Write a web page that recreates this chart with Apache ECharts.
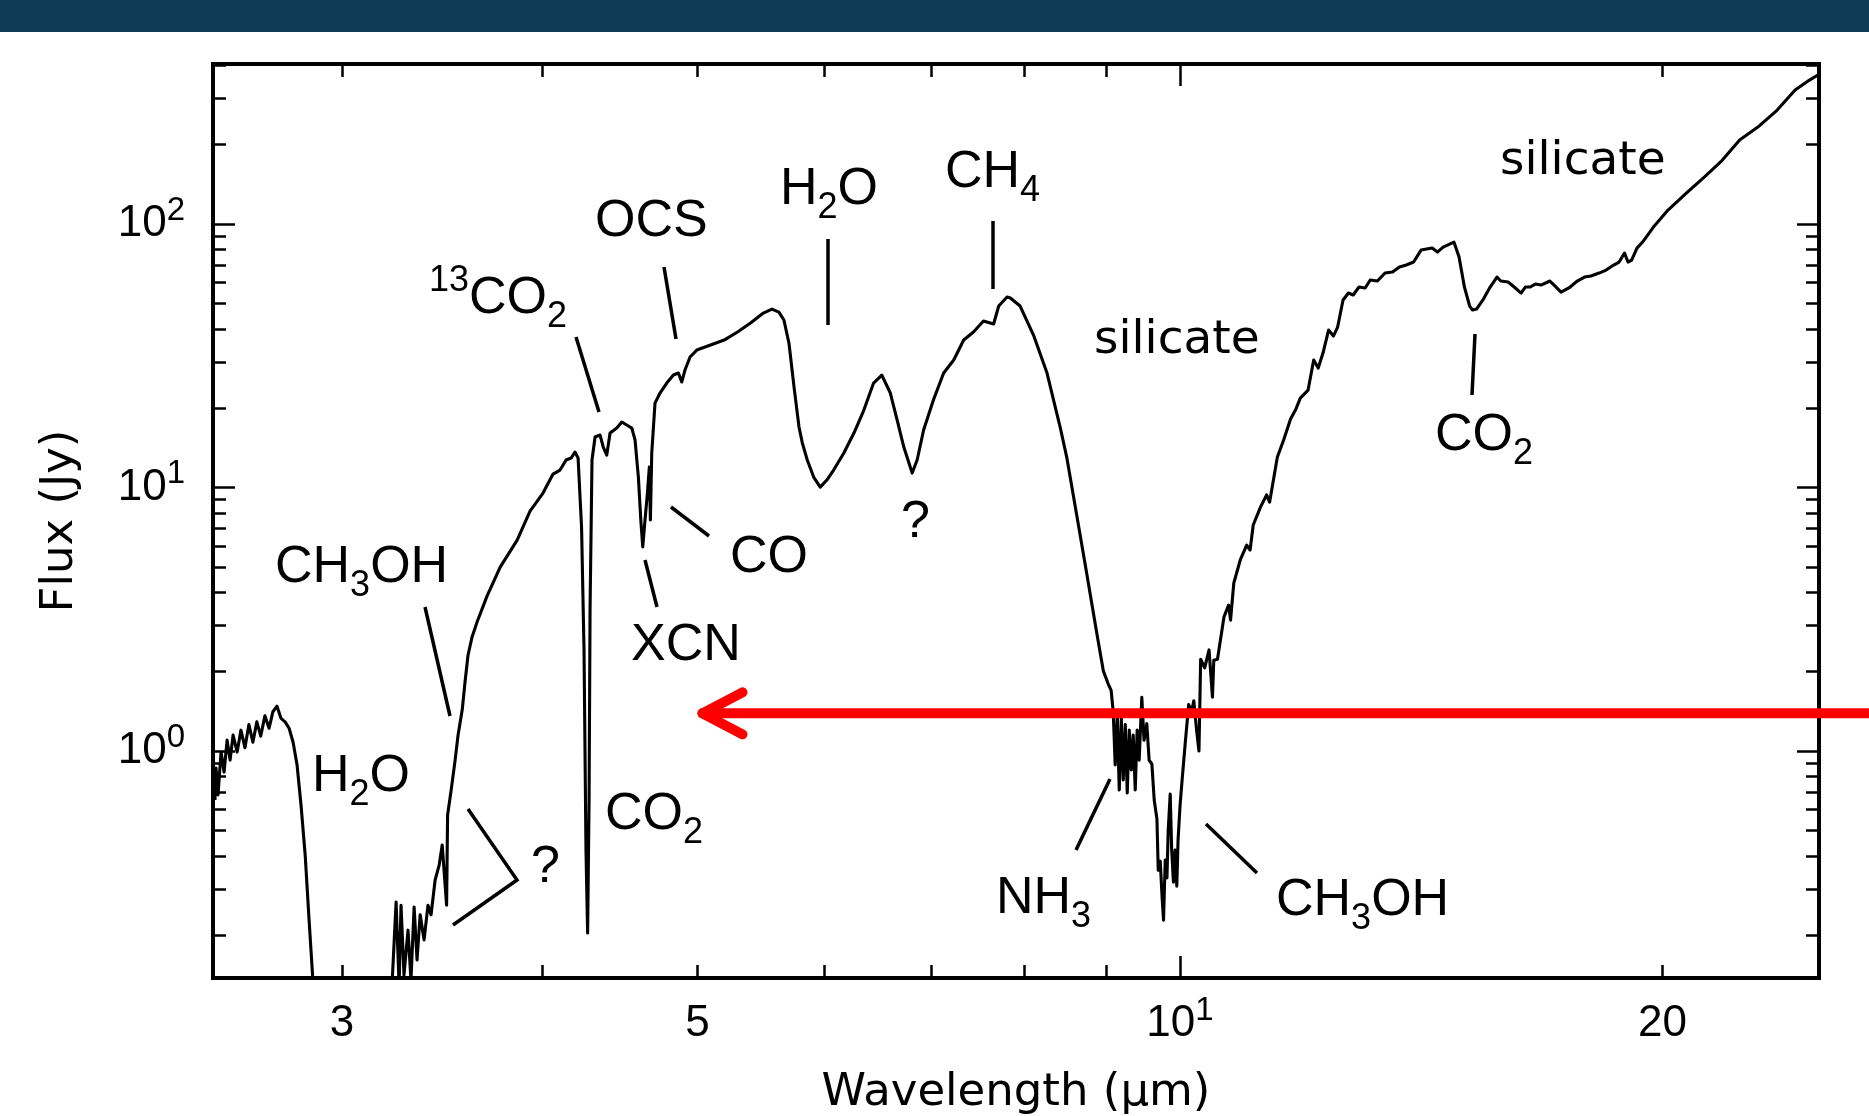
<!DOCTYPE html>
<html>
<head>
<meta charset="utf-8">
<script src="https://cdn.jsdelivr.net/npm/echarts@6/dist/echarts.min.js"></script>
<style>
html,body{margin:0;padding:0;background:#fff;}
#chart{width:1869px;height:1116px;}
</style>
</head>
<body>
<div id="chart"></div>
<script>
// ---- data (wavelength in micron, flux in Jy) ----
const wavelengthUm = [
2.500,2.504,2.511,2.522,2.533,2.544,2.555,2.566,2.581,2.595,2.610,2.625,2.640,2.655,2.670,2.686,2.702,2.717,2.733,2.749,2.765,2.781,2.797,2.813,2.829,2.846,2.862,2.879,
3.224,3.243,3.257,3.266,3.280,3.299,3.313,3.328,3.342,3.357,3.376,3.395,3.410,3.430,3.450,3.465,3.487,3.492,3.510,3.530,3.545,3.566,3.581,3.596,3.617,3.643,3.696,3.766,3.859,3.931,4.005,4.063,4.104,4.140,4.170,4.193,4.212,4.233,4.248,4.260,4.270,4.279,4.285,4.297,4.316,4.347,4.367,4.389,4.410,4.453,4.485,4.517,4.550,4.571,4.593,4.609,4.622,4.637,4.653,4.666,4.673,4.682,4.704,4.738,4.784,4.830,4.865,4.888,4.911,4.947,4.995,
5.095,5.195,5.296,5.396,5.496,5.565,5.620,5.661,5.702,5.744,5.785,5.813,5.854,5.908,5.964,6.021,6.080,6.170,6.260,6.350,6.439,6.516,6.596,6.661,6.725,6.806,6.855,6.919,7.017,7.121,7.225,7.329,7.433,7.540,7.651,7.707,7.800,7.837,7.948,8.102,8.261,8.418,8.498,8.623,8.749,8.875,8.958,
9.019,9.058,9.085,9.111,9.138,9.164,9.191,9.217,9.244,9.270,9.297,9.324,9.350,9.377,9.403,9.430,9.466,9.496,9.534,9.566,9.604,9.636,9.674,9.692,9.720,9.748,9.766,9.790,9.814,9.832,9.860,9.881,9.906,9.930,9.954,9.972,
10.000,10.030,10.075,10.125,10.166,10.200,10.241,10.276,10.301,10.361,10.426,10.477,10.497,10.553,10.652,10.723,10.753,10.803,10.904,11.005,11.059,11.109,11.225,11.324,11.374,11.501,11.605,11.721,11.804,11.886,
12.020,12.117,12.196,12.280,12.379,12.465,12.541,12.639,12.736,12.824,12.932,13.047,13.143,13.279,13.424,13.570,13.705,13.841,13.988,14.137,14.366,14.474,14.593,14.821,14.931,15.046,15.160,15.223,15.310,15.463,15.613,15.766,15.853,16.021,16.161,16.322,16.422,16.538,16.659,16.796,17.012,17.140,17.286,17.515,17.693,17.879,18.045,18.258,18.444,18.644,18.790,18.936,19.032,19.131,19.279,19.435,19.740,
20.158,20.695,21.235,21.782,22.343,22.935,23.581,24.196,24.701,25.000
];
const fluxJy = [
0.652,0.862,0.681,0.991,0.832,1.10,0.924,1.15,0.991,1.20,1.03,1.26,1.08,1.29,1.14,1.36,1.22,1.41,1.48,1.33,1.29,1.22,1.08,0.885,0.624,0.403,0.228,0.129,
0.129,0.267,0.129,0.260,0.141,0.209,0.135,0.256,0.161,0.239,0.192,0.260,0.239,0.324,0.369,0.440,0.260,0.572,0.711,0.924,1.15,1.43,1.84,2.31,2.71,3.09,3.88,4.99,6.32,8.14,9.53,11.25,11.65,12.72,12.94,13.64,12.94,7.08,2.42,0.421,0.204,0.652,3.43,12.72,15.55,15.82,14.25,13.28,16.10,16.82,17.73,17.27,16.82,15.15,10.96,7.53,5.95,7.53,9.53,11.96,7.53,13.52,20.92,22.84,24.93,26.73,27.20,25.15,27.92,31.28,33.25,
34.74,36.29,38.92,42.11,45.94,47.58,46.35,43.23,35.35,24.06,16.97,14.75,12.72,10.96,10.04,10.68,11.65,13.52,16.10,19.68,24.93,26.73,22.84,18.04,14.25,11.35,12.72,16.53,21.48,27.20,30.47,36.29,38.92,42.85,41.74,48.85,52.84,52.38,48.85,37.91,27.20,16.97,13.05,7.80,4.66,2.78,2.01,
1.80,1.70,1.41,0.885,1.37,0.711,1.33,0.776,1.26,0.693,1.20,0.847,1.15,0.711,1.20,0.924,1.60,1.10,1.27,0.924,0.893,0.652,0.552,0.353,0.382,0.272,0.228,0.386,0.330,0.501,0.687,0.421,0.318,0.421,0.307,0.460,
0.618,0.776,1.07,1.50,1.41,1.55,1.20,1.00,2.23,2.07,2.42,1.60,2.21,2.23,3.23,3.58,3.14,4.34,5.31,6.05,5.79,7.21,8.43,9.37,8.81,13.05,15.15,18.20,19.68,21.86,
23.44,30.47,28.41,32.39,39.60,37.58,40.65,51.47,54.72,53.79,57.68,57.18,61.32,60.78,65.17,65.74,68.68,69.90,71.76,79.67,81.07,78.29,81.79,85.45,74.95,57.68,48.85,47.17,47.58,51.93,57.68,62.95,60.78,60.25,57.68,54.72,57.68,57.68,59.20,58.69,60.78,58.17,55.20,57.68,60.78,62.95,63.50,65.17,66.90,69.90,71.76,77.61,71.76,73.03,81.07,85.45,97.41,
113.0,131.1,150.8,174.2,208.4,233.4,270.8,322.5,352.0,367.8
];

// axis ranges and tick values
const xRange = [2.493, 25.04];
const yRange = [0.1376, 405];
const xMinorTicks = [3, 4, 5, 6, 7, 8, 9, 20];
const xTickLabels = [3, 5, 10, 20];
const yMinorTicks = [0.2, 0.3, 0.4, 0.5, 0.6, 0.7, 0.8, 0.9, 2, 3, 4, 5, 6, 7, 8, 9, 20, 30, 40, 50, 60, 70, 80, 90, 200, 300, 400];
const yTickLabels = [1, 10, 100];
const arrowTip = [5.0, 1.39];

// ---- styling / layout ----
const FONT = 'Liberation Sans';
const TITLE_FONT = 'DejaVu Sans';
const BLACK = '#000';

const tickRich = {
  b: { fontFamily: FONT, fontSize: 44, lineHeight: 60, color: BLACK },
  s: { fontFamily: FONT, fontSize: 33, lineHeight: 30, verticalAlign: 'top', color: BLACK }
};
function tickFormatter(v) {
  const r = Math.round(v);
  if (Math.abs(v - r) < 1e-6) return '{b|10}{s|' + r + '}';
  return '{b|' + Math.round(Math.pow(10, v)) + '}';
}
const majorTick = { show: true, inside: true, length: 22, lineStyle: { color: BLACK, width: 2.5 } };
const minorTick = (vals) => ({ show: true, inside: true, length: 13, customValues: vals.map(Math.log10), lineStyle: { color: BLACK, width: 2.5 } });
const noLine = { show: false, onZero: false };

const chart = echarts.init(document.getElementById('chart'), null, { renderer: 'canvas' });

const option = {
  animation: false,
  backgroundColor: '#ffffff',
  textStyle: { fontFamily: FONT },
  grid: {
    left: 213, top: 64, right: 50, bottom: 138,
    show: true, borderColor: BLACK, borderWidth: 4, backgroundColor: 'transparent',
    containLabel: false, outerBoundsMode: 'none'
  },
  xAxis: [
    { type: 'log', logBase: 10, min: xRange[0], max: xRange[1], position: 'bottom',
      axisLine: noLine, axisTick: majorTick, axisLabel: { show: false }, splitLine: { show: false },
      name: 'Wavelength (\u03bcm)', nameLocation: 'middle', nameGap: 93, nameMoveOverlap: false,
      nameTextStyle: { fontFamily: TITLE_FONT, fontSize: 45, color: BLACK } },
    { type: 'log', logBase: 10, min: xRange[0], max: xRange[1], position: 'top',
      axisLine: noLine, axisTick: majorTick, axisLabel: { show: false }, splitLine: { show: false } },
    { type: 'value', min: Math.log10(xRange[0]), max: Math.log10(xRange[1]), position: 'bottom',
      axisLine: noLine, axisTick: minorTick(xMinorTicks), splitLine: { show: false },
      axisLabel: { show: true, customValues: xTickLabels.map(Math.log10), margin: 16,
        formatter: tickFormatter, rich: tickRich, color: BLACK } },
    { type: 'value', min: Math.log10(xRange[0]), max: Math.log10(xRange[1]), position: 'top',
      axisLine: noLine, axisTick: minorTick(xMinorTicks), splitLine: { show: false }, axisLabel: { show: false } }
  ],
  yAxis: [
    { type: 'log', logBase: 10, min: yRange[0], max: yRange[1], position: 'left',
      axisLine: noLine, axisTick: majorTick, axisLabel: { show: false }, splitLine: { show: false },
      name: 'Flux (Jy)', nameLocation: 'middle', nameGap: 130, nameMoveOverlap: false,
      nameTextStyle: { fontFamily: TITLE_FONT, fontSize: 45, color: BLACK } },
    { type: 'log', logBase: 10, min: yRange[0], max: yRange[1], position: 'right',
      axisLine: noLine, axisTick: majorTick, axisLabel: { show: false }, splitLine: { show: false } },
    { type: 'value', min: Math.log10(yRange[0]), max: Math.log10(yRange[1]), position: 'left',
      axisLine: noLine, axisTick: minorTick(yMinorTicks), splitLine: { show: false },
      axisLabel: { show: true, customValues: yTickLabels.map(Math.log10), margin: 28,
        formatter: tickFormatter, rich: tickRich, color: BLACK } },
    { type: 'value', min: Math.log10(yRange[0]), max: Math.log10(yRange[1]), position: 'right',
      axisLine: noLine, axisTick: minorTick(yMinorTicks), splitLine: { show: false }, axisLabel: { show: false } }
  ],
  series: [{
    name: 'Flux', type: 'line', xAxisIndex: 0, yAxisIndex: 0,
    data: wavelengthUm.map((w, i) => [w, fluxJy[i]]),
    showSymbol: false, symbol: 'none', clip: true,
    lineStyle: { color: BLACK, width: 3.1, join: 'round' },
    emphasis: { disabled: true }
  }]
};
chart.setOption(option);

// ---- annotations (layout in page pixels) ----
const annoRich = {
  m: { fontFamily: FONT, fontSize: 52, lineHeight: 72, fill: BLACK },
  w: { fontFamily: TITLE_FONT, fontSize: 47, lineHeight: 72, fill: BLACK },
  sub: { fontFamily: FONT, fontSize: 36, lineHeight: 36, verticalAlign: 'bottom', fill: BLACK },
  sup: { fontFamily: FONT, fontSize: 36, lineHeight: 36, verticalAlign: 'top', fill: BLACK }
};
const annoLabels = [
  { t: '{m|CH}{sub|3}{m|OH}', x: 275, y: 568 },
  { t: '{m|H}{sub|2}{m|O}', x: 312, y: 777 },
  { t: '{m|?}', x: 531, y: 868 },
  { t: '{m|CO}{sub|2}', x: 605, y: 815 },
  { t: '{m|XCN}', x: 631, y: 646 },
  { t: '{m|CO}', x: 730, y: 558 },
  { t: '{sup|13}{m|CO}{sub|2}', x: 429, y: 299 },
  { t: '{m|OCS}', x: 595, y: 222 },
  { t: '{m|H}{sub|2}{m|O}', x: 780, y: 190 },
  { t: '{m|CH}{sub|4}', x: 945, y: 173 },
  { t: '{m|?}', x: 901, y: 523 },
  { t: '{w|silicate}', x: 1094, y: 341 },
  { t: '{w|silicate}', x: 1500, y: 162 },
  { t: '{m|CO}{sub|2}', x: 1435, y: 436 },
  { t: '{m|NH}{sub|3}', x: 996, y: 899 },
  { t: '{m|CH}{sub|3}{m|OH}', x: 1276, y: 901 }
];
const leaderLines = [
  [[425, 607], [450, 716]],
  [[468, 809], [517, 880], [453, 925]],
  [[576, 337], [599, 412]],
  [[664, 267], [676, 339]],
  [[828, 239], [828, 325]],
  [[993, 221], [993, 289]],
  [[671, 507], [709, 536]],
  [[645, 560], [657, 607]],
  [[1475, 334], [1472, 395]],
  [[1110, 779], [1076, 850]],
  [[1206, 824], [1257, 873]]
];

const arrowWidth = 10;
const tipPx = chart.convertToPixel({ xAxisIndex: 0, yAxisIndex: 0 }, arrowTip);
// offset by half the stroke so the visible point sits on the anchor
const tx = tipPx[0] + arrowWidth / 2, ty = tipPx[1];
const graphics = [];
graphics.push({ type: 'rect', z: 100, shape: { x: 0, y: 0, width: 1869, height: 32 }, style: { fill: '#0f3b57' } });
annoLabels.forEach((a) => {
  graphics.push({ type: 'text', z: 100, x: a.x, y: a.y,
    style: { text: a.t, fill: BLACK, fontFamily: FONT, fontSize: 52,
      align: 'left', verticalAlign: 'middle', textAlign: 'left', textVerticalAlign: 'middle', rich: annoRich } });
});
leaderLines.forEach((pts) => {
  graphics.push({ type: 'polyline', z: 100, shape: { points: pts },
    style: { stroke: BLACK, lineWidth: 3.5, fill: null } });
});
graphics.push({ type: 'line', z: 200, shape: { x1: tx, y1: ty, x2: 1900, y2: ty },
  style: { stroke: '#ff0000', lineWidth: arrowWidth, lineCap: 'round' } });
graphics.push({ type: 'polyline', z: 200,
  shape: { points: [[tx + 40, ty - 21], [tx, ty], [tx + 40, ty + 21]] },
  style: { stroke: '#ff0000', lineWidth: arrowWidth, lineCap: 'round', lineJoin: 'round', fill: null } });
chart.setOption({ graphic: graphics });
</script>
</body>
</html>
